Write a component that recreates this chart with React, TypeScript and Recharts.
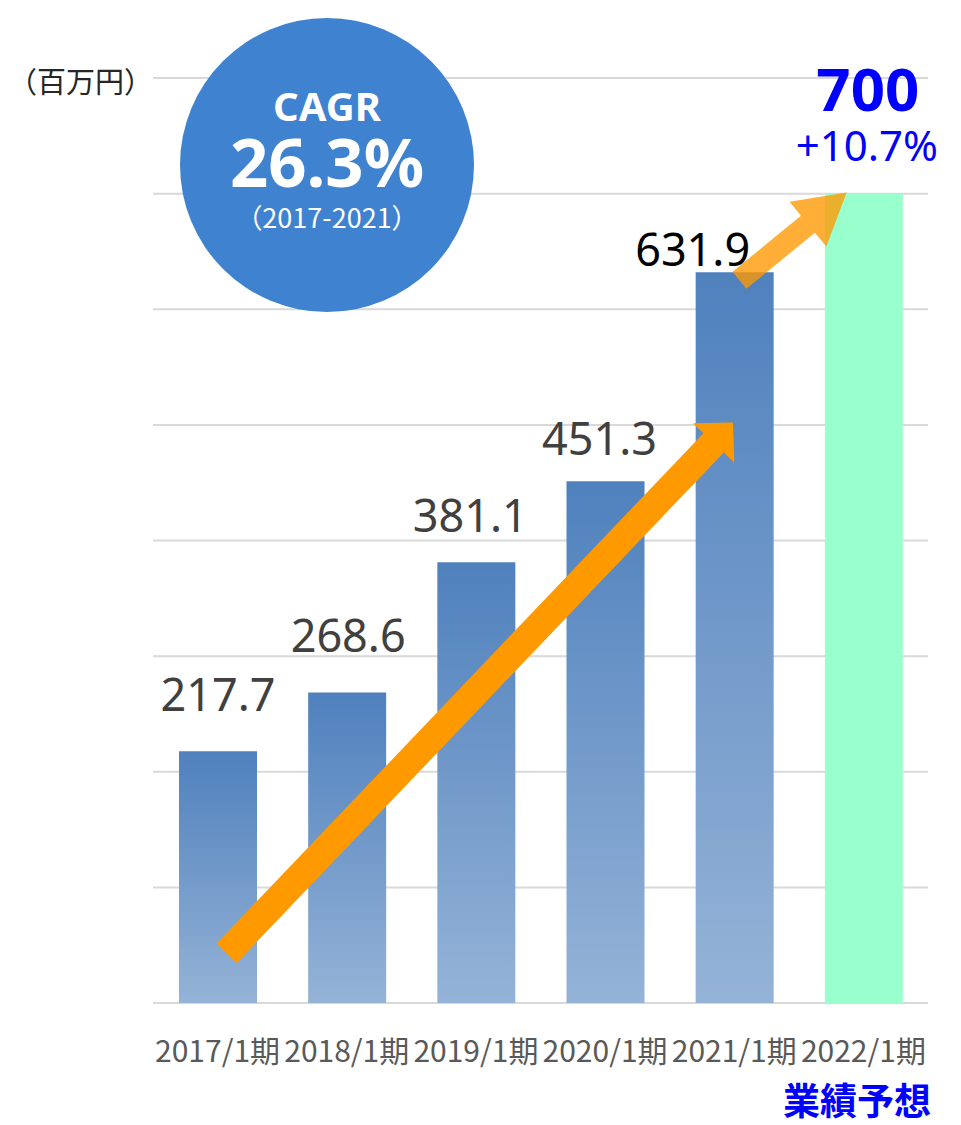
import React from 'react';
import { BarChart, Bar, XAxis, YAxis, CartesianGrid, Cell, LabelList, ReferenceLine } from 'recharts';

const categories = ['2017/1期', '2018/1期', '2019/1期', '2020/1期', '2021/1期', '2022/1期'];
const sales = [217.7, 268.6, 381.1, 451.3, 631.9, 700];
const forecastGrowth = '+10.7%';
const yTicks = [0, 100, 200, 300, 400, 500, 600, 700, 800];

// arrow annotations in data space (x: band position on a hidden numeric axis, 0..6)
const trendArrow = [{ x: 0.57, y: 43 }, { x: 4.49, y: 502 }];
const forecastArrow = [{ x: 4.54, y: 625 }, { x: 5.37, y: 701 }];

const data = categories.map((name, i) => ({ name, value: sales[i], pos: i + 0.5 }));

const NUM_FONT = '"Noto Sans", "Noto Sans CJK JP", sans-serif';
const JP_FONT = '"Noto Sans CJK JP", "Noto Sans", sans-serif';

// label tweaks per bar (lift above bar top, horizontal shift)
const labelLift = [40, 40, 30, 26, 6];
const labelShift = [0, 1, -6, -6, -42];

const arrowShape = (shaft: number, headW: number, headL: number, fill: string, opacity: number) => (props: any) => {
  const { x1, y1, x2, y2 } = props;
  const dx = x2 - x1;
  const dy = y2 - y1;
  const len = Math.sqrt(dx * dx + dy * dy);
  const ux = dx / len;
  const uy = dy / len;
  const px = -uy;
  const py = ux;
  const bx = x2 - ux * headL;
  const by = y2 - uy * headL;
  const pts = [
    [x1 + px * shaft / 2, y1 + py * shaft / 2],
    [bx + px * shaft / 2, by + py * shaft / 2],
    [bx + px * headW / 2, by + py * headW / 2],
    [x2, y2],
    [bx - px * headW / 2, by - py * headW / 2],
    [bx - px * shaft / 2, by - py * shaft / 2],
    [x1 - px * shaft / 2, y1 - py * shaft / 2],
  ];
  return <polygon points={pts.map(p => p.join(',')).join(' ')} fill={fill} fillOpacity={opacity} />;
};

const renderLabel = (props: any) => {
  const { x, y, width, value, index } = props;
  const cx = x + width / 2;
  if (index === 5) {
    return (
      <g>
        <text x={cx + 4} y={y - 83} textAnchor="middle" fill="#0000FF" fontSize={60} fontWeight="bold" fontFamily={NUM_FONT}>
          {value}
        </text>
        <text x={cx + 3} y={y - 33} textAnchor="middle" fill="#0000FF" fontSize={42} fontFamily={NUM_FONT}>
          {forecastGrowth}
        </text>
      </g>
    );
  }
  return (
    <text
      x={cx + labelShift[index]}
      y={y - labelLift[index]}
      textAnchor="middle"
      fill={index === 4 ? '#000000' : '#404040'}
      fontSize={45}
      fontFamily={NUM_FONT}
    >
      {Number(value).toFixed(1)}
    </text>
  );
};

const renderTick = (props: any) => {
  const { x, y, payload } = props;
  return (
    <text x={x} y={y + 57} textAnchor="middle" fill="#595959" fontSize={30} fontFamily={JP_FONT}>
      {payload.value}
    </text>
  );
};

export default function App() {
  return (
    <div style={{ position: 'relative', width: 945, height: 1117, background: '#fff' }}>
      <BarChart width={945} height={1110} data={data} margin={{ top: 70, right: 25, left: 145, bottom: 55 }}>
        <defs>
          <linearGradient id="barGrad" x1="0" y1="0" x2="0" y2="1">
            <stop offset="0%" stopColor="#4F81BD" />
            <stop offset="100%" stopColor="#95B3D7" />
          </linearGradient>
        </defs>
        <CartesianGrid horizontal vertical={false} stroke="#D9D9D9" strokeWidth={2} />
        <XAxis xAxisId="cat" dataKey="name" axisLine={false} tickLine={false} tickSize={0} tick={renderTick} height={60} interval={0} />
        <XAxis xAxisId="num" dataKey="pos" type="number" domain={[0, 6]} allowDataOverflow hide />
        <YAxis domain={[0, 800]} ticks={yTicks} hide />
        <Bar xAxisId="cat" dataKey="value" barSize={78} isAnimationActive={false}>
          {data.map((d, i) => (
            <Cell key={d.name} fill={i === 5 ? '#99FFCC' : 'url(#barGrad)'} />
          ))}
          <LabelList dataKey="value" content={renderLabel} />
        </Bar>
        <ReferenceLine
          xAxisId="num"
          segment={trendArrow}
          ifOverflow="visible"
          shape={arrowShape(28, 57, 28, '#FF9900', 1)}
        />
        <ReferenceLine
          xAxisId="num"
          segment={forecastArrow}
          ifOverflow="visible"
          shape={arrowShape(22, 58, 50, '#FF9900', 0.78)}
        />
      </BarChart>

      <div style={{ position: 'absolute', left: 0, top: 51, fontFamily: JP_FONT, fontSize: 29, color: '#262626' }}>
        （百万円）
      </div>

      <div
        style={{
          position: 'absolute',
          left: 172,
          top: 10,
          width: 294,
          height: 294,
          borderRadius: '50%',
          background: '#3F83D0',
          color: '#fff',
          fontFamily: NUM_FONT,
          textAlign: 'center',
        }}
      >
        <div style={{ position: 'absolute', top: 68, width: '100%', fontSize: 40, fontWeight: 'bold', lineHeight: 1 }}>CAGR</div>
        <div style={{ position: 'absolute', top: 110, width: '100%', fontSize: 67, fontWeight: 'bold', lineHeight: 1 }}>26.3%</div>
        <div style={{ position: 'absolute', top: 185, width: '100%', fontSize: 27, lineHeight: 1, fontFamily: JP_FONT }}>（2017-2021）</div>
      </div>

      <div
        style={{
          position: 'absolute',
          right: 22,
          top: 1073,
          fontFamily: JP_FONT,
          fontSize: 37,
          fontWeight: 'bold',
          color: '#0000FF',
          lineHeight: 1,
        }}
      >
        業績予想
      </div>
    </div>
  );
}
